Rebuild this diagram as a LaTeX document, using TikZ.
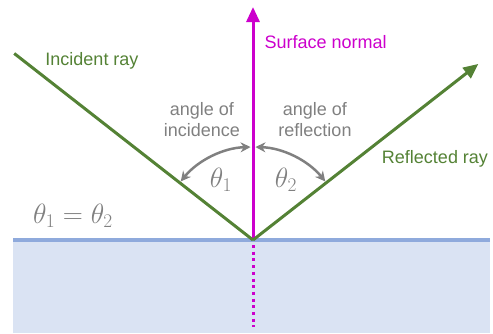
\documentclass[tikz,border=0pt]{standalone}
\usepackage{fontspec}
\setmainfont{Liberation Sans}
\usetikzlibrary{arrows.meta,calc}

\definecolor{raygreen}{RGB}{84,130,53}
\definecolor{normalmagenta}{RGB}{204,0,204}
\definecolor{anglegray}{RGB}{128,128,128}
\definecolor{surfaceblue}{RGB}{143,170,220}
\definecolor{mediumblue}{RGB}{218,227,243}

\begin{document}
\begin{tikzpicture}[x=1pt,y=1pt,line join=round,
    ray/.style={raygreen,line width=3pt},
    raylabel/.style={raygreen,font=\fontsize{18}{21}\selectfont},
    anglelabel/.style={anglegray,align=center,font=\fontsize{18}{21}\selectfont},
    thetalabel/.style={anglegray,font=\fontsize{24}{28}\selectfont,scale=1.12,transform shape},
    anglearc/.style={anglegray,line width=2.5pt,{Stealth[length=10pt,width=10pt]}-{Stealth[length=10pt,width=10pt]}}]
        \useasboundingbox (0,0) rectangle (493,333);

        % medium below the surface
        \fill[mediumblue] (13,0) rectangle (490,93);
        \draw[surfaceblue,line width=4pt] (13,93) -- (490,93);

        \coordinate (O) at (253,93);
        \coordinate (Ntip) at (253,326);
        \coordinate (Nend) at (253,6);
        \coordinate (Istart) at ($(O)+(142:303)$);
        \coordinate (Rtip) at ($(O)+(38:286)$);

        % normal
        \draw[normalmagenta,line width=3pt,-{Triangle[length=15pt,width=13pt]}] (O) -- (Ntip);
        \draw[normalmagenta,line width=3pt,dash pattern=on 3pt off 3.7pt] (253,88) -- (Nend);

        % rays
        \draw[ray] (Istart) -- (O);
        \draw[ray,-{Triangle[length=15pt,width=13pt]}] (O) -- (Rtip);

        % angles
        \draw[anglearc] ($(O)+(141:93)$) arc[start angle=141,end angle=91.5,radius=93];
        \draw[anglearc] ($(O)+(88.5:93)$) arc[start angle=88.5,end angle=39,radius=93];

        \node[raylabel] (incident) at (92,272) {Incident ray};
        \node[raylabel,anchor=west,text=normalmagenta] (normal) at (261,291) {Surface normal};
        \node[raylabel] (reflected) at (435,174) {Reflected ray};
        \node[anglelabel] (incidence) at (202,213) {angle of\\incidence};
        \node[anglelabel] (reflection) at (315,213) {angle of\\reflection};
        \node[thetalabel] (thetaone) at (221,153) {$\theta_1$};
        \node[thetalabel] (thetatwo) at (286,153) {$\theta_2$};
        \node[thetalabel] (equal) at (73,117) {$\theta_1=\theta_2$};
    \end{tikzpicture}
\end{document}
